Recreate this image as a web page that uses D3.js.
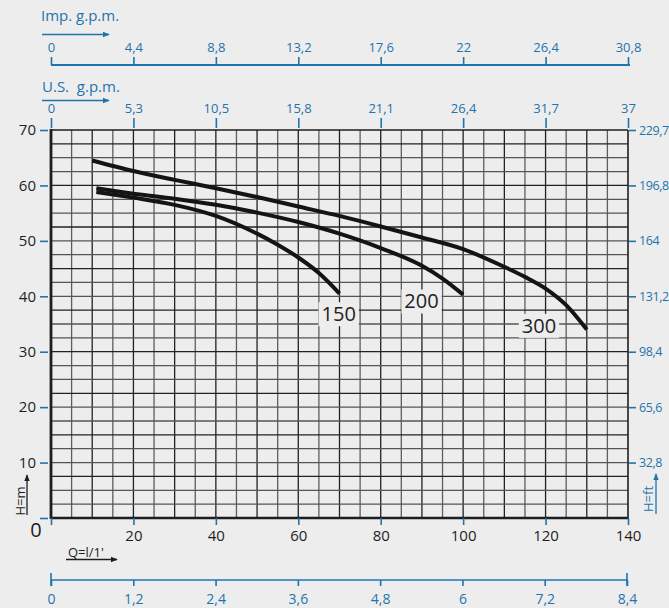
<!DOCTYPE html>
<html>
<head>
<meta charset="utf-8">
<script src="https://cdn.jsdelivr.net/npm/d3@7"></script>
<style>
  html, body { margin: 0; padding: 0; background: #ededed; }
  svg { display: block; font-family: "Open Sans", "Noto Sans", sans-serif; }
  text { white-space: pre; }
</style>
</head>
<body>
<svg id="chart" width="669" height="608"></svg>
<script>
// Pump performance curves: head H (m) against flow Q (l/min)
const flowTicks = [0, 20, 40, 60, 80, 100, 120, 140];
const headTicks = [10, 20, 30, 40, 50, 60, 70];
const usGpmLabels = ["0", "5,3", "10,5", "15,8", "21,1", "26,4", "31,7", "37"];
const impGpmLabels = ["0", "4,4", "8,8", "13,2", "17,6", "22", "26,4", "30,8"];
const feetLabels = ["32,8", "65,6", "98,4", "131,2", "164", "196,8", "229,7"];
const m3hLabels = ["0", "1,2", "2,4", "3,6", "4,8", "6", "7,2", "8,4"];

const curveNames = ["150", "200", "300"];
const curve150 = [[11, 58.8], [20, 57.8], [30, 56.5], [40, 54.5], [50, 51.3], [55, 49.3], [60, 47.0], [65, 44.2], [70, 40.5]];
const curve200 = [[11, 59.5], [20, 58.5], [30, 57.6], [40, 56.5], [50, 55.1], [60, 53.4], [70, 51.3], [80, 48.7], [90, 45.5], [95, 43.2], [100, 40.3]];
const curve300 = [[10, 64.5], [20, 62.6], [30, 61.0], [40, 59.5], [50, 57.9], [60, 56.2], [70, 54.5], [80, 52.6], [90, 50.6], [100, 48.5], [110, 45.3], [115, 43.5], [120, 41.4], [125, 38.4], [130, 34.0]];
// where each curve's name is written (Q, H)
const curveLabelAt = [[69.8, 36.8], [89.9, 39.1], [118.4, 34.7]];

const BLUE = "#1f74ad";
const INK = "#1e1e1e";

const svg = d3.select("#chart");
const L = 51, R = 628, T = 130, B = 518;
const x = d3.scaleLinear().domain([0, 140]).range([L, R]);
const y = d3.scaleLinear().domain([0, 70]).range([B, T]);

// arrow heads
const defs = svg.append("defs");
[["arrowBlue", BLUE], ["arrowInk", INK]].forEach(([id, c]) => {
  defs.append("marker").attr("id", id)
    .attr("viewBox", "0 0 10 10").attr("refX", 9).attr("refY", 5)
    .attr("markerWidth", 7).attr("markerHeight", 7).attr("markerUnits", "userSpaceOnUse")
    .attr("orient", "auto")
    .append("path").attr("d", "M0,1 L10,5 L0,9 Z").attr("fill", c);
});

// grid
const grid = svg.append("g");
d3.range(5, 140, 5).forEach(q => {
  grid.append("line")
    .attr("x1", x(q)).attr("x2", x(q)).attr("y1", T).attr("y2", B)
    .attr("stroke", q % 10 === 0 ? "#222" : "#5e5e5e").attr("stroke-width", 1.3);
});
d3.range(2.5, 70, 2.5).forEach((h, i) => {
  grid.append("line")
    .attr("x1", L).attr("x2", R).attr("y1", y(h)).attr("y2", y(h))
    .attr("stroke", i % 3 === 2 ? "#222" : "#555").attr("stroke-width", 1.3);
});

// frame
svg.append("line").attr("x1", L).attr("x2", R).attr("y1", T).attr("y2", T).attr("stroke", INK).attr("stroke-width", 1.6);
svg.append("line").attr("x1", R).attr("x2", R).attr("y1", T).attr("y2", B).attr("stroke", INK).attr("stroke-width", 1.6);
svg.append("line").attr("x1", L).attr("x2", R).attr("y1", B).attr("y2", B).attr("stroke", INK).attr("stroke-width", 2.6);
svg.append("line").attr("x1", L).attr("x2", L).attr("y1", T - 1).attr("y2", B + 1).attr("stroke", INK).attr("stroke-width", 2.8);

function styleAxis(g, tickColor, textColor, size) {
  g.select(".domain").remove();
  g.selectAll(".tick line").attr("stroke", tickColor).attr("stroke-width", 1.6);
  g.selectAll(".tick text").attr("fill", textColor).attr("font-size", size)
    .attr("font-family", "'Open Sans', 'Noto Sans', sans-serif");
}

// left: head in metres
const leftAxis = svg.append("g").attr("transform", `translate(${L - 3},0)`)
  .call(d3.axisLeft(y).tickValues([0].concat(headTicks)).tickSize(8).tickPadding(4)
    .tickFormat(d => d === 0 ? "" : d));
styleAxis(leftAxis, BLUE, INK, 15);

// right: head in feet
const rightAxis = svg.append("g").attr("transform", `translate(${R + 1},0)`)
  .call(d3.axisRight(y).tickValues(headTicks).tickSize(7).tickPadding(3)
    .tickFormat((d, i) => feetLabels[i]));
styleAxis(rightAxis, BLUE, BLUE, 12.5);
rightAxis.selectAll(".tick text").attr("letter-spacing", -0.4);

// bottom: flow in l/min
const bottomAxis = svg.append("g").attr("transform", `translate(0,${B})`)
  .call(d3.axisBottom(x).tickValues(flowTicks).tickSize(7).tickPadding(5)
    .tickFormat(d => d === 0 ? "" : d));
styleAxis(bottomAxis, BLUE, INK, 15);
svg.append("text").attr("x", 36).attr("y", 537).attr("text-anchor", "middle")
  .attr("font-size", 20).attr("fill", INK).text("0");

// top: U.S. gallons per minute
const usAxis = svg.append("g").attr("transform", `translate(0,${T - 2})`)
  .call(d3.axisTop(x).tickValues(flowTicks).tickSize(10).tickPadding(5)
    .tickFormat((d, i) => usGpmLabels[i]));
styleAxis(usAxis, BLUE, BLUE, 13);

// top: imperial gallons per minute
const impY = 65;
svg.append("line").attr("x1", L).attr("x2", R + 2).attr("y1", impY).attr("y2", impY)
  .attr("stroke", BLUE).attr("stroke-width", 1.8);
const impAxis = svg.append("g").attr("transform", `translate(0,${impY})`)
  .call(d3.axisTop(x).tickValues(flowTicks).tickSize(8).tickPadding(5)
    .tickFormat((d, i) => impGpmLabels[i]));
styleAxis(impAxis, BLUE, BLUE, 13);

// bottom: cubic metres per hour
const xm3 = d3.scaleLinear().domain([0, 8.4]).range([L, R - 1]);
const m3Y = 580;
svg.append("line").attr("x1", L).attr("x2", R - 1).attr("y1", m3Y).attr("y2", m3Y)
  .attr("stroke", BLUE).attr("stroke-width", 1.6);
const m3Axis = svg.append("g").attr("transform", `translate(0,${m3Y})`)
  .call(d3.axisBottom(xm3).tickValues(d3.range(0, 8).map(i => i * 1.2)).tickSize(6).tickPadding(8)
    .tickFormat((d, i) => m3hLabels[i]));
styleAxis(m3Axis, BLUE, BLUE, 14);
[0, 8.4].forEach(v => {
  svg.append("line").attr("x1", xm3(v)).attr("x2", xm3(v)).attr("y1", m3Y - 7).attr("y2", m3Y + 6)
    .attr("stroke", BLUE).attr("stroke-width", 1.6);
});

// unit titles with arrows
svg.append("text").attr("x", 41).attr("y", 21).attr("font-size", 15).attr("fill", BLUE).text("Imp. g.p.m.");
svg.append("line").attr("x1", 42).attr("x2", 109).attr("y1", 34.5).attr("y2", 34.5)
  .attr("stroke", BLUE).attr("stroke-width", 1.6).attr("marker-end", "url(#arrowBlue)");
svg.append("text").attr("x", 42).attr("y", 92).attr("font-size", 15).attr("fill", BLUE).text("U.S.  g.p.m.");
svg.append("line").attr("x1", 42).attr("x2", 109).attr("y1", 100.5).attr("y2", 100.5)
  .attr("stroke", BLUE).attr("stroke-width", 1.6).attr("marker-end", "url(#arrowBlue)");

svg.append("text").attr("x", 68).attr("y", 557).attr("font-size", 13).attr("fill", INK).text("Q=l/1'");
svg.append("line").attr("x1", 66).attr("x2", 117).attr("y1", 559.5).attr("y2", 559.5)
  .attr("stroke", INK).attr("stroke-width", 1.3).attr("marker-end", "url(#arrowInk)");

svg.append("text").attr("transform", "translate(25,501) rotate(-90)").attr("text-anchor", "middle")
  .attr("font-size", 13).attr("fill", INK).text("H=m");
svg.append("line").attr("x1", 27).attr("x2", 27).attr("y1", 515).attr("y2", 475)
  .attr("stroke", INK).attr("stroke-width", 1.3).attr("marker-end", "url(#arrowInk)");
svg.append("text").attr("transform", "translate(653,499) rotate(-90)").attr("text-anchor", "middle")
  .attr("font-size", 13).attr("fill", BLUE).text("H=ft");
svg.append("line").attr("x1", 656).attr("x2", 656).attr("y1", 514).attr("y2", 474)
  .attr("stroke", BLUE).attr("stroke-width", 1.3).attr("marker-end", "url(#arrowBlue)");

// performance curves
const line = d3.line().x(d => x(d[0])).y(d => y(d[1])).curve(d3.curveMonotoneX);
[curve150, curve200, curve300].forEach(c => {
  svg.append("path").attr("d", line(c)).attr("fill", "none")
    .attr("stroke", "#141414").attr("stroke-width", 4).attr("stroke-linecap", "butt");
});

// curve names on a plain backing
curveNames.forEach((name, i) => {
  const [q, h] = curveLabelAt[i];
  const g = svg.append("g").attr("transform", `translate(${x(q)},${y(h)})`);
  const t = g.append("text").attr("text-anchor", "middle").attr("dy", "0.36em")
    .attr("font-size", 20).attr("fill", "#222").text(name);
  const bb = t.node().getBBox();
  g.insert("rect", "text").attr("x", bb.x - 3).attr("y", bb.y + 2).attr("width", bb.width + 6).attr("height", bb.height - 3)
    .attr("fill", "#ededed");
});
</script>
</body>
</html>
